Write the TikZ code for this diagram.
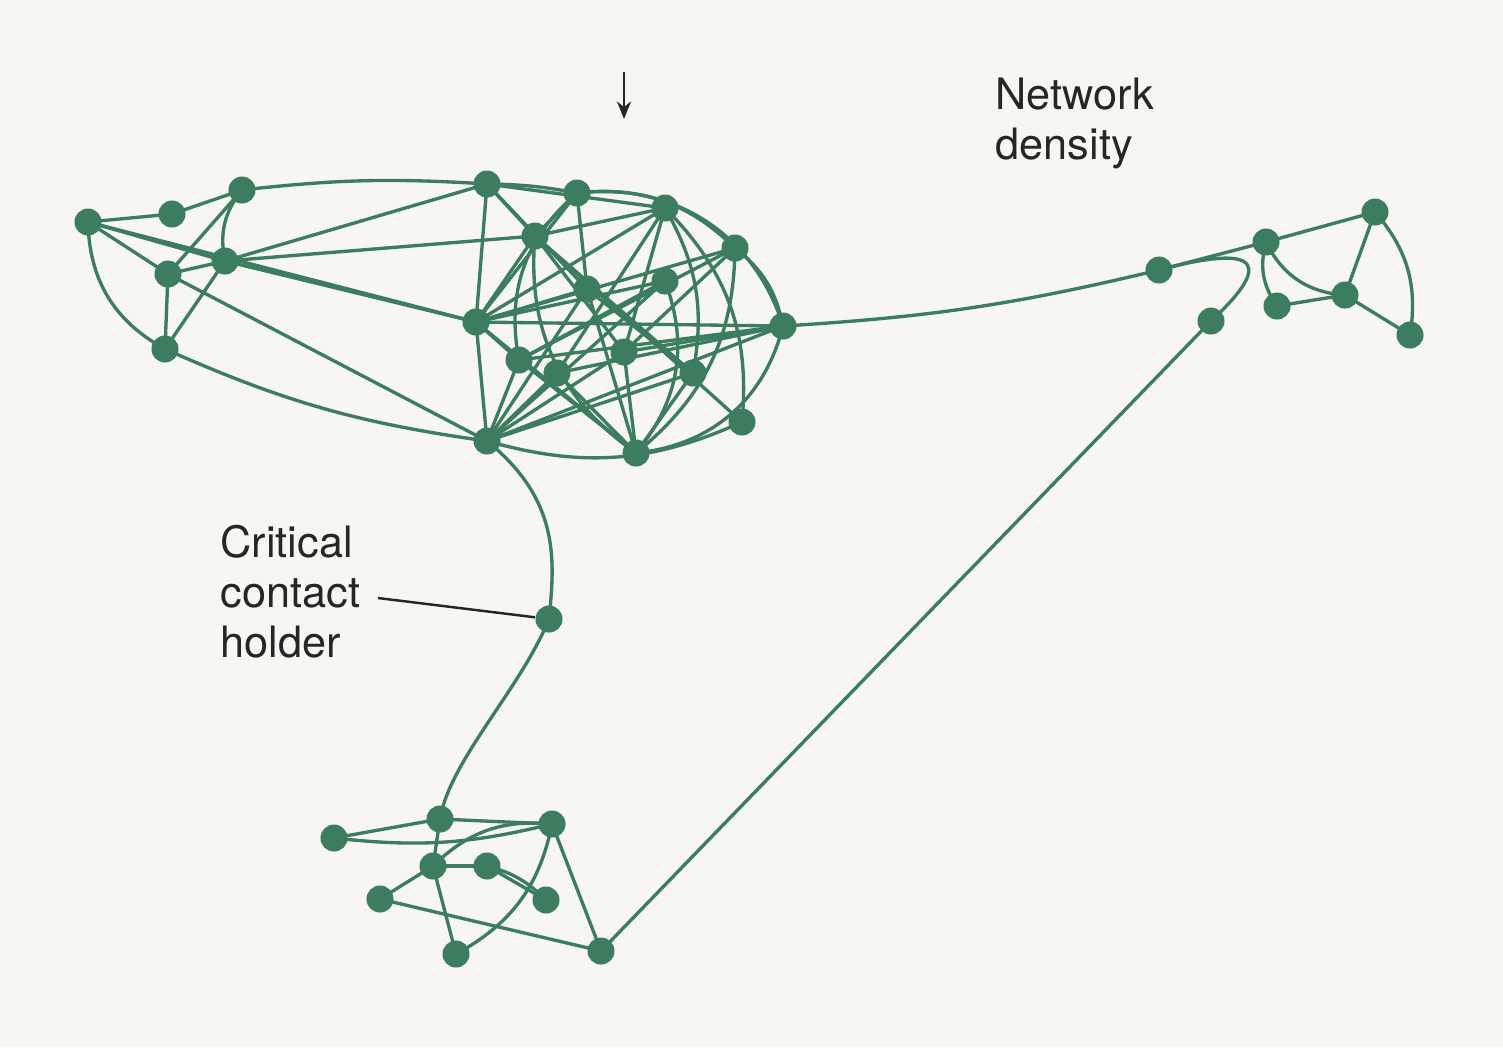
\documentclass[tikz,border=0pt]{standalone}
\usepackage{fontspec}
\setmainfont{TeX Gyre Heros}
\usepackage{xcolor}
\usetikzlibrary{arrows.meta,positioning}
\definecolor{bgpaper}{HTML}{F7F6F2}
\definecolor{netgreen}{HTML}{3B7D5E}
\tikzset{
  person/.style={circle,fill=netgreen,minimum size=0.27cm,inner sep=0pt},
  tie/.style={draw=netgreen,line width=0.95pt},
  lbl/.style={align=left,font=\fontsize{12.3}{14.3}\selectfont,text=black!85,inner sep=0pt}
}
\begin{document}
\begin{tikzpicture}[x=0.01cm,y=-0.01cm]
    \fill[bgpaper] (0,0) rectangle (1503,1047);
    \useasboundingbox (0,0) rectangle (1503,1047);

    % Contacts: left group
    \foreach \n/\p in {a1/{88,222},a2/{172,214},a3/{242,190},a4/{168,274},a5/{225,261},a6/{165,349}}
        \coordinate (\n) at (\p);
    % Contacts: dense core
    \foreach \n/\p in {b1/{487,184},b2/{577,193},b3/{665,208},b4/{735,248},b5/{535,236},b6/{587,289},
        b7/{665,281},b8/{476,322},b9/{783,326},b10/{519,360},b11/{557,373},b12/{624,352},
        b13/{693,373},b14/{487,441},b15/{636,453},b16/{742,422}}
        \coordinate (\n) at (\p);
    % Contacts: right group
    \foreach \n/\p in {r1/{1159,270},r2/{1266,242},r3/{1375,212},r4/{1211,321},r5/{1277,306},r6/{1345,295},r7/{1410,335}}
        \coordinate (\n) at (\p);
    % Contacts: bottom group
    \foreach \n/\p in {m1/{549,619},c1/{334,838},c2/{440,819},c3/{552,824},c4/{433,866},c5/{487,866},
        c6/{380,899},c7/{546,900},c8/{456,954},c9/{601,951}}
        \coordinate (\n) at (\p);

    % Ties
    \foreach \u/\v in {a1/a2,a2/a3,a1/a4,a1/a5,a3/a4,a4/a5,a4/a6,a5/a6,a1/b8,a5/b1,a5/b5,a5/b8,a4/b14,
        b1/b5,b1/b8,b1/b6,b1/b3,b2/b5,b2/b6,b2/b8,b3/b5,b3/b8,b3/b12,b3/b11,b4/b8,b4/b10,b4/b12,
        b5/b8,b5/b12,b5/b13,b6/b8,b6/b13,b6/b14,b7/b8,b7/b10,b7/b14,b8/b9,b8/b10,b8/b14,b8/b15,
        b9/b14,b9/b11,b9/b12,b9/b10,b10/b15,b10/b14,b11/b14,b11/b15,b12/b14,b12/b15,b13/b14,b13/b15,
        b6/b15,b5/b16,
        r1/r2,r2/r3,r3/r6,r6/r7,r5/r6,r4/c9,
        c1/c2,c2/c3,c2/c4,c4/c6,c4/c8,c5/c7,c3/c9,c6/c9,c4/c5}
        \draw[tie] (\u) -- (\v);
    \draw[tie] (a1) to[bend right=30] (a6);
    \draw[tie] (a3) to[bend right=25] (a5);
    \draw[tie] (a3) to[bend left=5] (b1);
    \draw[tie] (a6) to[bend right=8] (b14);
    \draw[tie] (b1) to[bend left=5] (b2);
    \draw[tie] (b2) to[bend left=25] (b4);
    \draw[tie] (b2) to[bend left=40] (b9);
    \draw[tie] (b3) to[bend left=25] (b16);
    \draw[tie] (b4) to[bend left=20] (b9);
    \draw[tie] (b4) to[bend left=25] (b15);
    \draw[tie] (b3) to[bend left=20] (b13);
    \draw[tie] (b7) to[bend left=30] (b15);
    \draw[tie] (b5) to[bend right=30] (b15);
    \draw[tie] (b9) to[bend left=35] (b15);
    \draw[tie] (b14) to[bend right=20] (b16);
    \draw[tie] (b2) to[bend right=30] (b10);
    \draw[tie] (b9) to[bend right=5] (r1);
    \draw[tie] (r1) .. controls (1290,235) and (1250,285) .. (r4);
    \draw[tie] (r2) to[bend right=30] (r6);
    \draw[tie] (r2) to[bend right=25] (r5);
    \draw[tie] (r3) to[bend left=25] (r7);
    \draw[tie] (b14) .. controls (560,500) and (555,560) .. (m1);
    \draw[tie] (m1) .. controls (520,690) and (450,760) .. (c2);
    \draw[tie] (c1) to[bend right=10] (c3);
    \draw[tie] (c3) to[bend right=25] (c4);
    \draw[tie] (c3) to[bend left=25] (c8);
    \draw[tie] (c5) to[bend left=15] (c7);

    % Nodes on top
    \foreach \n in {a1,a2,a3,a4,a5,a6,b1,b2,b3,b4,b5,b6,b7,b8,b9,b10,b11,b12,b13,b14,b15,b16,
        r1,r2,r3,r4,r5,r6,r7,m1,c1,c2,c3,c4,c5,c6,c7,c8,c9}
        \node[person] (n\n) at (\n) {};

    % Labels
    \node[lbl,anchor=north west] (density) at (995,77) {Network\\density};
    \coordinate (arrtop) at (624,72);
    \coordinate (arrbot) at (624,119);
    \draw[-{Stealth[length=5pt,width=4pt]},line width=0.7pt,black!85] (arrtop) -- (arrbot);
    \node[lbl,anchor=north west] (critical) at (220,524) {Critical\\contact\\holder};
    \coordinate (pointer) at (378,598);
    \draw[line width=0.7pt,black!85] (pointer) -- (nm1);
\end{tikzpicture}
\end{document}
